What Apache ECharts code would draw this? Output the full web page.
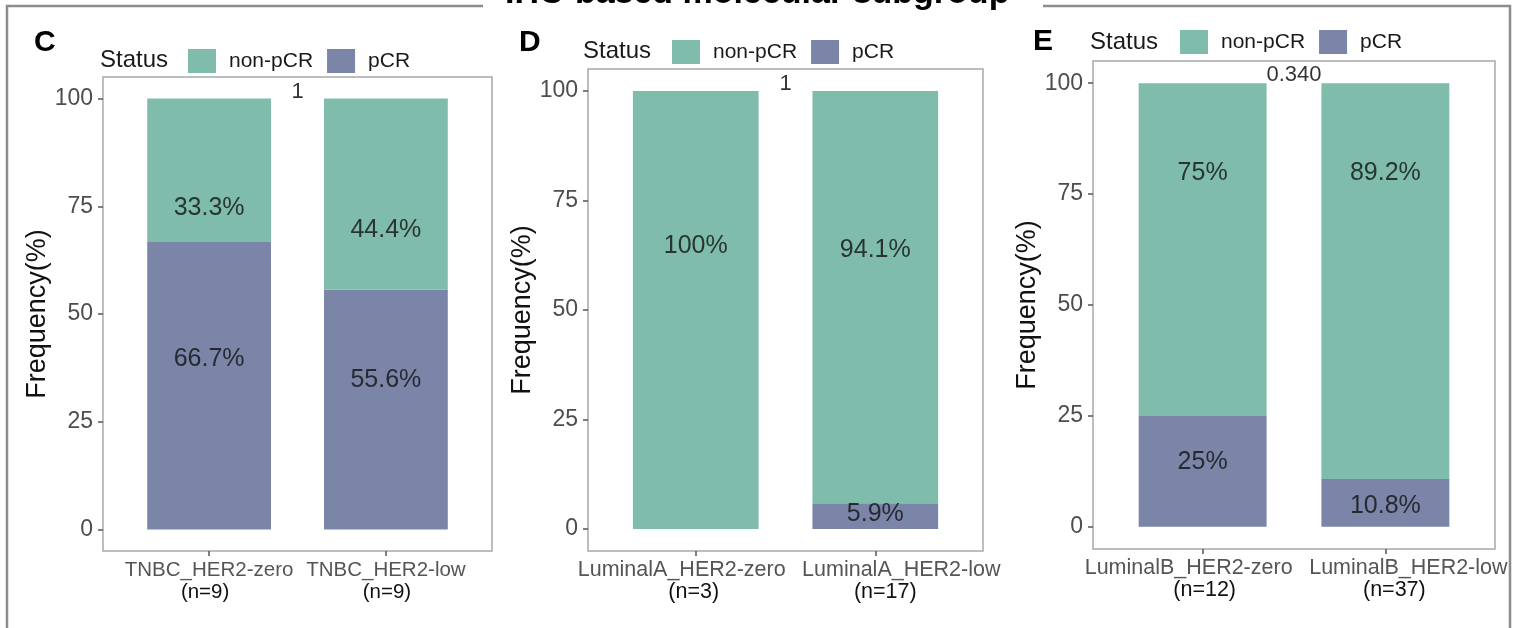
<!DOCTYPE html>
<html>
<head>
<meta charset="utf-8">
<title>IHC-based molecular subgroup</title>
<script src="https://cdn.jsdelivr.net/npm/echarts@6/dist/echarts.min.js"></script>
<style>
  html, body { margin: 0; padding: 0; background: #ffffff; }
  #chart { width: 1520px; height: 628px; }
</style>
</head>
<body>
<div id="chart"></div>
<script>
// ---------------- data ----------------
const panelLetters = ['C', 'D', 'E'];
const categoriesC = ['TNBC_HER2-zero', 'TNBC_HER2-low'];
const categoriesD = ['LuminalA_HER2-zero', 'LuminalA_HER2-low'];
const categoriesE = ['LuminalB_HER2-zero', 'LuminalB_HER2-low'];
const sampleSizesC = [9, 9];
const sampleSizesD = [3, 17];
const sampleSizesE = [12, 37];
// percentage of patients per status (non-pCR on top of pCR)
const nonPcrC = [33.3, 44.4];
const pcrC = [66.7, 55.6];
const nonPcrD = [100, 94.1];
const pcrD = [0, 5.9];
const nonPcrE = [75, 89.2];
const pcrE = [25, 10.8];
// comparison p-values between the two groups of each panel
const pValues = ['1', '1', '0.340'];
const yTicks = [0, 25, 50, 75, 100];
const statusNames = ['non-pCR', 'pCR'];

// ---------------- layout (pixels / data-unit anchors) ----------------
const grids = [
  { left: 103, top: 77, width: 389, height: 474 },
  { left: 588, top: 69, width: 395, height: 482 },
  { left: 1093, top: 61, width: 402, height: 488 }
];
// vertical anchor (in % units) where each percentage label sits
const nonPcrLabelAt = [[74.6, 69.4], [64.5, 63.6], [79.8, 79.8]];
const pcrLabelAt = [[39.5, 34.7], [null, 3.4], [14.6, 4.7]];
const pValueAt = [101.6, 101.6, 101.8];
const legendPos = [
  { left: 188, top: 49 },
  { left: 672, top: 40 },
  { left: 1180, top: 30 }
];
const statusTitlePos = [[100, 60], [583, 51], [1090, 42]];
const letterPos = [[34, 43], [519, 43], [1033, 42]];
// horizontal nudges (px) of the two lines of each category label, so long names do not collide
const nameShift = [[0, 0], [-14, 26], [-14, 23]];
const countShift = [[-4, 1], [-2, 10], [2, 9]];
const catFontSize = [20.5, 21.5, 21.5];

const COLOR_NON = '#7fbcab';
const COLOR_PCR = '#7a85a8';
const FONT = '"Liberation Sans", Arial, Helvetica, sans-serif';

const panels = [
  { cats: categoriesC, n: sampleSizesC, non: nonPcrC, pcr: pcrC },
  { cats: categoriesD, n: sampleSizesD, non: nonPcrD, pcr: pcrD },
  { cats: categoriesE, n: sampleSizesE, non: nonPcrE, pcr: pcrE }
];

const fmtPct = v => String(v) + '%';
const shiftPad = s => (s >= 0 ? [0, 0, 0, 2 * s] : [0, -2 * s, 0, 0]);

const xAxes = [], yAxes = [], series = [], legends = [], graphics = [];

panels.forEach((p, i) => {
  // one value axis per group label (both at the bottom of the same grid);
  // the first one also carries the bars
  [0, 1].forEach(k => {
    xAxes.push({
      type: 'value', gridIndex: i, min: -0.6, max: 1.6, position: 'bottom',
      splitLine: { show: false },
      axisLine: { show: false, onZero: false },
      axisTick: { show: true, length: 5, customValues: [k], lineStyle: { color: '#555', width: 1.5 } },
      axisLabel: {
        customValues: [k], margin: 8,
        formatter: v => '{a|' + p.cats[k] + '}\n{b|(n=' + p.n[k] + ')}',
        rich: {
          a: { fontFamily: FONT, fontSize: catFontSize[i], color: '#555555', lineHeight: 22, padding: shiftPad(nameShift[i][k]) },
          b: { fontFamily: FONT, fontSize: catFontSize[i], color: '#111111', lineHeight: 22, padding: shiftPad(countShift[i][k]) }
        }
      }
    });
  });
  const xIdx = 2 * i;

  yAxes.push({
    type: 'value', gridIndex: i, min: -5, max: 105, position: 'left',
    name: 'Frequency(%)', nameLocation: 'middle', nameGap: 50,
    nameTextStyle: { fontFamily: FONT, fontSize: 27, color: '#111111' },
    splitLine: { show: false },
    axisLine: { show: false, onZero: false },
    axisTick: { show: true, length: 5, customValues: yTicks, lineStyle: { color: '#555', width: 1.5 } },
    axisLabel: {
      customValues: yTicks, margin: 10,
      fontFamily: FONT, fontSize: 23, color: '#4d4d4d'
    }
  });

  // stacked bars: pCR at the bottom, non-pCR above.
  // Each row is [percentage, group index]; the percentage comes first so it is the stacked dimension.
  series.push({
    name: 'pCR', type: 'bar', stack: 'status' + i,
    xAxisIndex: xIdx, yAxisIndex: i, barWidth: '70%',
    encode: { x: 1, y: 0 },
    itemStyle: { color: COLOR_PCR },
    data: p.pcr.map((v, k) => [v, k])
  });
  series.push({
    name: 'non-pCR', type: 'bar', stack: 'status' + i,
    xAxisIndex: xIdx, yAxisIndex: i, barWidth: '70%',
    encode: { x: 1, y: 0 },
    itemStyle: { color: COLOR_NON },
    data: p.non.map((v, k) => [v, k])
  });

  // percentage labels
  const labelData = [];
  p.non.forEach((v, k) => {
    if (v > 0 && nonPcrLabelAt[i][k] != null) labelData.push([k, nonPcrLabelAt[i][k], v]);
  });
  p.pcr.forEach((v, k) => {
    if (v > 0 && pcrLabelAt[i][k] != null) labelData.push([k, pcrLabelAt[i][k], v]);
  });
  series.push({
    type: 'scatter', xAxisIndex: xIdx, yAxisIndex: i, silent: true,
    symbolSize: 0, itemStyle: { color: 'transparent' },
    label: {
      show: true, position: 'inside',
      fontFamily: FONT, fontSize: 25, color: '#111111',
      formatter: prm => fmtPct(prm.value[2])
    },
    data: labelData
  });

  // p-value between the two bars
  series.push({
    type: 'scatter', xAxisIndex: xIdx, yAxisIndex: i, silent: true,
    symbolSize: 0, itemStyle: { color: 'transparent' },
    label: {
      show: true, position: 'inside',
      fontFamily: FONT, fontSize: 22, color: '#000000',
      formatter: () => pValues[i]
    },
    data: [[0.5, pValueAt[i]]]
  });

  legends.push({
    data: statusNames,
    left: legendPos[i].left, top: legendPos[i].top,
    padding: 0,
    orient: 'horizontal', icon: 'rect',
    itemWidth: 28, itemHeight: 24, itemGap: 14,
    selectedMode: false,
    textStyle: { fontFamily: FONT, fontSize: 21, color: '#1a1a1a', padding: [0, 0, 0, 8] }
  });

  graphics.push({
    type: 'text',
    x: statusTitlePos[i][0], y: statusTitlePos[i][1],
    style: { text: 'Status', fontFamily: FONT, fontSize: 24, fill: '#1a1a1a', verticalAlign: 'middle' }
  });
  graphics.push({
    type: 'text',
    x: letterPos[i][0], y: letterPos[i][1],
    style: { text: panelLetters[i], fontFamily: FONT, fontSize: 30, fontWeight: 'bold', fill: '#000000', verticalAlign: 'middle' }
  });
});

// outer frame with the heading sitting in the gap of the top edge
graphics.push({
  type: 'polyline',
  shape: { points: [[483, 6], [7, 6], [7, 640]] },
  style: { stroke: '#8c8c8c', lineWidth: 2.5, fill: null }
});
graphics.push({
  type: 'polyline',
  shape: { points: [[1043, 6], [1510, 6], [1510, 640]] },
  style: { stroke: '#8c8c8c', lineWidth: 2.5, fill: null }
});
graphics.push({
  type: 'text', x: 505, y: -6,
  style: { text: 'IHC-based molecular subgroup', fontFamily: FONT, fontSize: 34, fontWeight: 'bold', fill: '#000000', verticalAlign: 'middle' }
});

const chart = echarts.init(document.getElementById('chart'), null, { renderer: 'canvas' });
chart.setOption({
  animation: false,
  backgroundColor: '#ffffff',
  grid: grids.map(g => Object.assign({ show: true, borderColor: '#a8a8a8', borderWidth: 1.5, backgroundColor: 'transparent' }, g)),
  xAxis: xAxes,
  yAxis: yAxes,
  legend: legends,
  series: series,
  graphic: graphics
});
</script>
</body>
</html>
